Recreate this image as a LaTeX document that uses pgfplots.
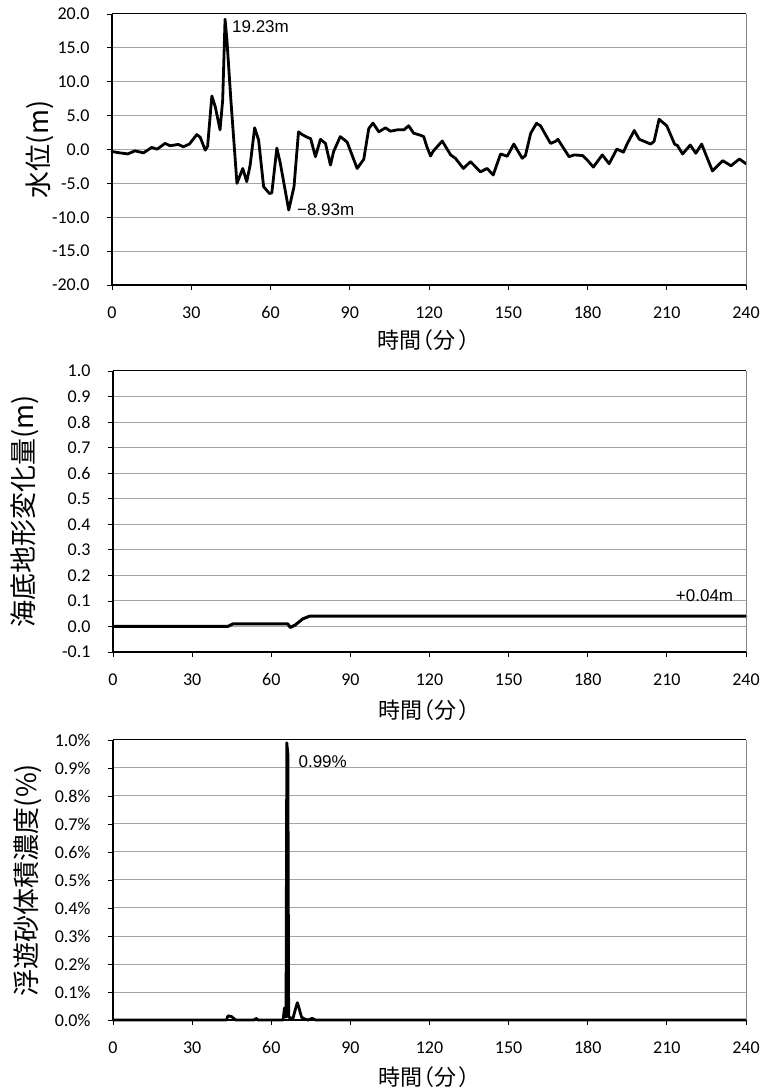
\documentclass[border=0pt]{standalone}
\usepackage{pgfplots}
\pgfplotsset{compat=1.18}
\usepackage{fontspec}
\setmainfont{Carlito}
\newfontfamily\jp{Noto Sans CJK JP}
\newfontfamily\arial{Liberation Sans}
\definecolor{gridgray}{RGB}{165,165,165}
\definecolor{bordergray}{RGB}{134,134,134}
\tikzset{ann/.style={font=\arial\fontsize{17pt}{17pt}\selectfont, inner sep=0pt}}
\newcommand{\xlab}{時間\kern-0.45em（分\kern0.1em）}
\pgfplotsset{
  myaxis/.style={
    scale only axis, anchor=south west,
    xmin=0, xmax=240, xtick={0,30,...,240},
    xticklabels={0,30,60,90,120,150,180,210,240},
    axis x line*=bottom, axis y line*=left,
    axis line style={-, black, line width=1.6pt},
    tick align=outside, major tick length=5pt,
    tick style={black, line width=0.8pt},
    ymajorgrids, grid style={gridgray, line width=1pt},
    ticklabel style={font=\fontsize{18pt}{18pt}\selectfont},
    xticklabel style={yshift=-13pt},
    yticklabel style={xshift=-14pt},
    xlabel style={font=\jp\fontsize{22pt}{22pt}\selectfont, anchor=center},
    ylabel style={font=\jp\fontsize{27pt}{27pt}\selectfont, anchor=center},
    clip=false,
    every axis plot/.append style={black, line join=round, line cap=round},
  },
}
\begin{document}
\begin{tikzpicture}
\useasboundingbox (0,0) rectangle (764pt,1090pt);
% ---------------- top: water level
\begin{axis}[myaxis, at={(112pt,805pt)}, width=634pt, height=271pt,
  ymin=-20, ymax=20, ytick={-20,-15,-10,-5,0,5,10,15,20},
  yticklabels={-20.0,-15.0,-10.0,-5.0,0.0,5.0,10.0,15.0,20.0},
  xlabel={\xlab}, ylabel={水位(m)},
  xlabel style={at={(axis description cs:0.5,-0.203)}},
  ylabel style={at={(axis description cs:-0.1137,0.5)}}]
\addplot[line width=2.8pt] table {
0 -0.3
3 -0.5
6 -0.65
8.7 -0.2
11.9 -0.5
15 0.3
17.1 0.05
20.1 0.9
22 0.55
25.1 0.75
27 0.4
29.3 0.8
32.1 2.2
33.4 1.8
35.3 -0.1
36.2 0.5
37.8 7.9
39.1 6.3
40.9 2.9
41.9 7.3
42.8 19.23
43.5 16.2
45 7.3
47.3 -5.0
49.5 -2.8
51 -4.75
52.3 -2.3
54 3.2
55.5 1.4
57.4 -5.5
59.6 -6.5
60.5 -6.4
62.4 0.2
63.7 -2.0
66.9 -8.93
68.9 -5.5
70.6 2.6
72 2.2
73.9 1.8
75.2 1.6
77 -1.06
78.9 1.5
80.8 0.9
82.7 -2.3
83.9 -0.3
86.4 1.9
89 1.1
92.8 -2.8
95.3 -1.45
97.2 3.1
98.8 3.9
101 2.6
103.5 3.2
105.4 2.7
108 2.9
110.5 2.9
112.3 3.5
114.2 2.4
116.8 2.1
118.0 1.9
119.2 0.4
120.6 -0.96
121.5 -0.3
125 1.25
128.2 -0.8
130 -1.3
133 -2.8
135.7 -1.8
139.5 -3.3
142 -2.8
144.3 -3.76
147.1 -0.66
149.6 -1.0
152.1 0.8
155.3 -1.3
156.5 -0.9
158.5 2.4
160.7 3.87
162.2 3.5
166 0.9
167.9 1.2
168.8 1.5
173 -1.06
175 -0.8
178.2 -0.9
179.9 -1.55
182.2 -2.6
185.6 -0.8
188.2 -2.1
191.1 0.07
193.6 -0.4
195.1 0.9
197.7 2.8
199.6 1.5
201.5 1.2
203.9 0.8
205.2 1.2
207.1 4.46
210 3.5
213 0.77
214 0.6
216 -0.66
218.9 0.66
221 -0.56
223.2 0.8
227.3 -3.17
231.2 -1.65
234.3 -2.4
237.5 -1.4
240 -2.1
};
\draw[black, line width=1pt] (rel axis cs:0,1) -- (rel axis cs:1,1);
\draw[bordergray, line width=1pt] (rel axis cs:1,0) -- (rel axis cs:1,1);
\node[ann, anchor=west] at (axis cs:45.4,18.2) {19.23m};
\node[ann, anchor=west] at (axis cs:70.0,-8.83) {−8.93m};
\end{axis}
% ---------------- middle: bed change
\begin{axis}[myaxis, at={(113pt,438pt)}, width=633pt, height=281pt,
  ymin=-0.1, ymax=1.0, ytick={-0.1,0,0.1,0.2,0.3,0.4,0.5,0.6,0.7,0.8,0.9,1.0},
  yticklabels={-0.1,0.0,0.1,0.2,0.3,0.4,0.5,0.6,0.7,0.8,0.9,1.0},
  xlabel={\xlab}, ylabel={海底地形変化量(m)},
  xlabel style={at={(axis description cs:0.5,-0.206)}},
  ylabel style={at={(axis description cs:-0.139,0.5)}}]
\addplot[line width=3pt] table {
0 0
43.5 0
45.5 0.01
66.3 0.01
67.2 -0.004
69 0.005
72 0.03
74.5 0.04
240 0.04
};
\draw[black, line width=1pt] (rel axis cs:0,1) -- (rel axis cs:1,1);
\draw[bordergray, line width=1pt] (rel axis cs:1,0) -- (rel axis cs:1,1);
\node[ann, anchor=east] at (axis cs:235.2,0.119) {+0.04m};
\end{axis}
% ---------------- bottom: suspended sediment concentration
\begin{axis}[myaxis, at={(113pt,70pt)}, width=633pt, height=280pt,
  ymin=0, ymax=1.0, ytick={0,0.1,0.2,0.3,0.4,0.5,0.6,0.7,0.8,0.9,1.0},
  yticklabels={0.0\%,0.1\%,0.2\%,0.3\%,0.4\%,0.5\%,0.6\%,0.7\%,0.8\%,0.9\%,1.0\%},
  xlabel={\xlab}, ylabel={浮遊砂体積濃度(\%)},
  xlabel style={at={(axis description cs:0.5,-0.204)}},
  ylabel style={at={(axis description cs:-0.134,0.5)}}]
\addplot[line width=2.8pt] table {
0 0
43 0
43.6 0.015
45 0.012
46.5 0.0
53.5 0.0
54.2 0.006
55 0
64.5 0
65.0 0.043
65.6 0.01
65.9 0.99
66.3 0.95
66.6 0.01
68.2 0.005
69.2 0.04
69.9 0.062
70.6 0.04
71.5 0.01
72.8 0.003
74 0
75.5 0.006
76.8 0
240 0
};
\draw[black, line width=1pt] (rel axis cs:0,1) -- (rel axis cs:1,1);
\draw[bordergray, line width=1pt] (rel axis cs:1,0) -- (rel axis cs:1,1);
\node[ann, anchor=west] at (axis cs:70.3,0.9225) {0.99\%};
\end{axis}
\end{tikzpicture}
\end{document}
